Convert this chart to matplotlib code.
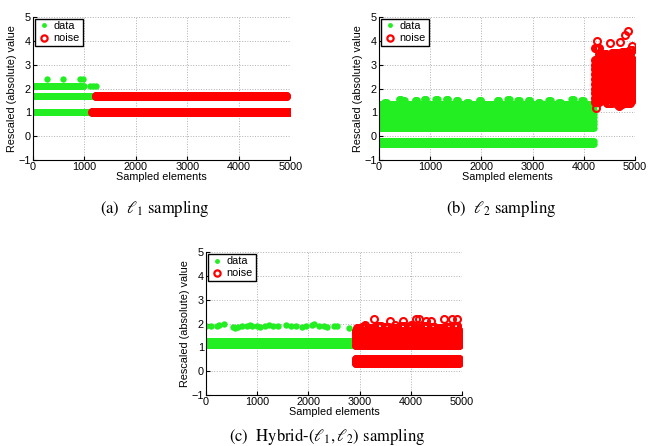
import numpy as np
from matplotlib import pyplot as plt

plt.rcParams['font.family'] = ['Liberation Sans', 'DejaVu Sans']
plt.rcParams['mathtext.fontset'] = 'stix'

# ---- (a) l1 sampling ----
a_data_levels = [1.0, 1.7, 2.1]
a_data_ends = [1150, 1200, 1000]
a_data_extra_x = [1100, 1160, 1230, 270, 580, 910, 980]
a_data_extra_y = [2.1, 2.1, 2.1, 2.4, 2.4, 2.4, 2.4]
a_noise_levels = [1.0, 1.7]
a_noise_starts = [1150, 1220]
a_noise_ends = [5000, 4930]
a_noise_gaps = [1300, 1880, 2600, 2790, 4000, 4490, 4640]

# ---- (b) l2 sampling ----
b_data_rows = [-0.32, -0.2, 0.36, 0.5, 0.64, 0.8, 0.95, 1.1, 1.25, 1.36]
b_data_end = 4200
b_data_top_x = [100, 380, 450, 700, 870, 1100, 1300, 1500, 1700, 1950, 2300,
                2500, 2700, 2900, 3100, 3300, 3500, 3750, 3950, 4150]
b_data_top_y = [1.45, 1.55, 1.5, 1.5, 1.55, 1.55, 1.55, 1.5, 1.45, 1.5, 1.5,
                1.55, 1.5, 1.5, 1.45, 1.5, 1.45, 1.55, 1.5, 1.45]
b_noise_rows = [1.6, 1.8, 2.0, 2.2, 2.4, 2.6, 2.8, 3.0, 3.2]
b_noise_start = 4220
b_noise_end = 4960
b_noise_edge_x = [4220, 4300, 4450, 4550, 4650, 4750, 4820, 4900, 4950]
b_noise_edge_top = [3.7, 3.45, 3.35, 3.5, 3.4, 3.55, 3.45, 3.6, 3.35]
b_noise_edge_bot = [1.45, 1.5, 1.4, 1.5, 1.35, 1.45, 1.4, 1.5, 1.45]
b_noise_out_x = [4230, 4250, 4240, 4520, 4700, 4800, 4870, 4950, 4850, 4680, 4600]
b_noise_out_y = [1.2, 4.0, 3.7, 3.9, 3.95, 4.25, 4.4, 3.8, 1.4, 1.25, 3.45]

# ---- (c) hybrid sampling ----
c_data_rows = [1.12, 1.2, 1.28]
c_data_end = 2880
c_data_extra_x = [0, 100, 220, 260, 350, 520, 560, 620, 700, 790, 850, 900, 1000, 1060,
                  1150, 1230, 1300, 1400, 1560, 1660, 1760, 1880, 1960, 2060, 2110,
                  2200, 2300, 2370, 2500, 2560, 2800]
c_data_extra_y = [1.9, 1.9, 1.9, 1.95, 2.0, 1.85, 1.8, 1.85, 1.9, 1.9, 1.95, 1.9, 1.9, 1.85,
                  1.9, 1.95, 1.9, 1.9, 1.95, 1.9, 1.9, 1.85, 1.9, 1.95, 2.0,
                  1.9, 1.9, 1.85, 1.9, 1.9, 1.8]
c_noise_low_rows = [0.36, 0.45, 0.52]
c_noise_high_rows = [1.1, 1.25, 1.4, 1.55, 1.7]
c_noise_start = 2920
c_noise_end = 4950
c_noise_top_x = [2950, 3050, 3200, 3350, 3500, 3650, 3800, 3950, 4100, 4250, 4400,
                 4550, 4700, 4850, 4930]
c_noise_top_y = [1.8, 1.85, 1.8, 1.9, 1.85, 1.8, 1.9, 1.85, 1.8, 1.9, 1.85,
                 1.8, 1.85, 1.9, 1.8]
c_noise_out_x = [3280, 3600, 3850, 4100, 4150, 4300, 4400, 4640, 4800, 4900, 3100, 3700, 4000]
c_noise_out_y = [2.2, 2.1, 2.1, 2.2, 2.2, 2.1, 2.1, 2.2, 2.2, 2.2, 1.95, 1.95, 1.95]

GREEN = '#22ee22'
RED = '#ff0000'
FS = 7.8


def green(ax, x, y):
    ax.plot(x, y, linestyle='none', marker='o', markersize=4.6, color=GREEN,
            markeredgewidth=0)


def red(ax, x, y):
    ax.plot(x, y, linestyle='none', marker='o', markersize=5, markerfacecolor='none',
            markeredgecolor=RED, markeredgewidth=1.5)


def rows(x0, x1, ys, step=10):
    xs = np.arange(x0, x1, step)
    X = np.tile(xs, len(ys))
    Y = np.repeat(ys, len(xs))
    return X, Y


def style(ax):
    ax.set_xlim(0, 5000)
    ax.set_ylim(-1, 5)
    ax.set_xticks(range(0, 5001, 1000))
    ax.set_yticks(range(-1, 6))
    ax.set_yticklabels(['\u22121', '0', '1', '2', '3', '4', '5'])
    ax.grid(True, linestyle=':', color='#b0b0b0', linewidth=0.7)
    ax.spines['top'].set_visible(False)
    ax.spines['right'].set_visible(False)
    ax.tick_params(direction='in', labelsize=FS, length=3, width=0.8, pad=1.5)
    ax.set_xlabel('Sampled elements', fontsize=FS, labelpad=0)
    ax.set_ylabel('Rescaled (absolute) value', fontsize=FS, labelpad=1)
    h1, = ax.plot([], [], linestyle='none', marker='o', markersize=3.5, color=GREEN,
                  markeredgewidth=0, label='data')
    h2, = ax.plot([], [], linestyle='none', marker='o', markersize=4.5,
                  markerfacecolor='none', markeredgecolor=RED, markeredgewidth=1.6,
                  label='noise')
    ax.legend(handles=[h1, h2], loc='upper left', fontsize=FS, fancybox=False,
              edgecolor='black', framealpha=1, borderaxespad=0.15, handletextpad=0.3,
              handlelength=1.2, borderpad=0.25, labelspacing=0.2)


fig = plt.figure(figsize=(6.48, 4.46), dpi=100)
axA = fig.add_axes([0.051, 0.641, 0.397, 0.321])
axB = fig.add_axes([0.585, 0.641, 0.395, 0.321])
axC = fig.add_axes([0.318, 0.114, 0.395, 0.321])

# (a)
for lev, end in zip(a_data_levels, a_data_ends):
    green(axA, *rows(0, end, [lev]))
green(axA, a_data_extra_x, a_data_extra_y)
for lev, s, e in zip(a_noise_levels, a_noise_starts, a_noise_ends):
    xs, ys = rows(s, e, [lev])
    if lev == a_noise_levels[1]:
        keep = np.ones(len(xs), bool)
        for g in a_noise_gaps:
            keep &= np.abs(xs - g) > 12
        xs, ys = xs[keep], ys[keep]
    red(axA, xs, ys)

# (b)
green(axB, *rows(0, b_data_end, b_data_rows))
for i in range(len(b_data_top_x) - 1):
    green(axB, *rows(b_data_top_x[i], b_data_top_x[i] + 60, [b_data_top_y[i]]))
red(axB, *rows(b_noise_start, b_noise_end, b_noise_rows, step=15))
for i in range(len(b_noise_edge_x) - 1):
    x0, x1 = b_noise_edge_x[i], b_noise_edge_x[i + 1]
    red(axB, *rows(x0, x1, [b_noise_edge_top[i], b_noise_edge_bot[i]], step=15))
red(axB, b_noise_out_x, b_noise_out_y)

# (c)
green(axC, *rows(0, c_data_end, c_data_rows))
green(axC, c_data_extra_x, c_data_extra_y)
red(axC, *rows(c_noise_start, c_noise_end, c_noise_low_rows, step=15))
red(axC, *rows(c_noise_start, c_noise_end, c_noise_high_rows, step=15))
for i in range(len(c_noise_top_x) - 1):
    red(axC, *rows(c_noise_top_x[i], c_noise_top_x[i] + 70, [c_noise_top_y[i]], step=15))
red(axC, c_noise_out_x, c_noise_out_y)

for ax in (axA, axB, axC):
    style(ax)

cap = dict(fontsize=12, family='STIXGeneral', ha='center', va='center')
fig.text(0.239, 0.533, r'(a)  $\ell_1$ sampling', **cap)
fig.text(0.773, 0.533, r'(b)  $\ell_2$ sampling', **cap)
fig.text(0.505, 0.022, r'(c)  Hybrid-$(\ell_1, \ell_2)$ sampling', **cap)

fig.savefig('out.png', dpi=100)
